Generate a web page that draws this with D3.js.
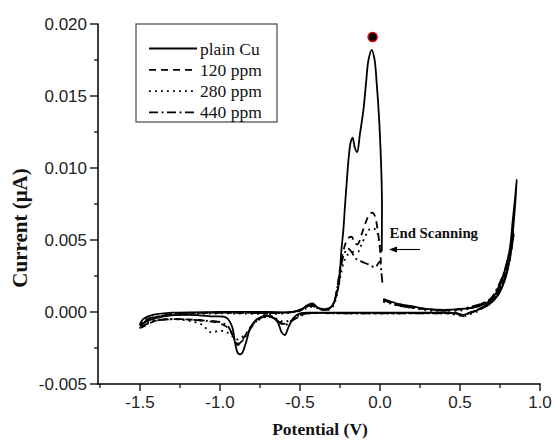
<!DOCTYPE html>
<html><head><meta charset="utf-8">
<script src="https://cdn.jsdelivr.net/npm/d3@7"></script>
<style>body{margin:0;background:#fff}svg{display:block}</style>
</head><body>
<svg id="c" width="554" height="441"></svg>
<script>
// ---- data (Potential V, Current) ----
const plainCu = [[0.02,0.0009],[0.05,0.0008],[0.1,0.0006],[0.2,0.0004],[0.3,0.0002],[0.4,0.00015],[0.5,0.0002],[0.58,0.0003],[0.64,0.0005],[0.69,0.0008],[0.74,0.0016],[0.78,0.0029],[0.81,0.0043],[0.83,0.0064],[0.845,0.0080],[0.855,0.0092],
[0.845,0.0075],[0.83,0.0055],[0.81,0.0036],[0.78,0.0022],[0.74,0.0012],[0.68,0.0005],[0.6,0.0001],[0.55,-0.0001],[0.52,-0.0002],[0.48,-0.0001],[0.4,-0.00005],[0.2,-0.00005],[0.0,-0.00005],[-0.2,-0.00005],[-0.4,-0.00005],[-0.5,-0.0001],[-0.54,-0.0004],[-0.57,-0.0010],[-0.595,-0.0016],[-0.615,-0.0014],[-0.64,-0.0007],[-0.68,-0.0003],[-0.72,-0.0003],[-0.77,-0.0005],[-0.81,-0.0011],[-0.84,-0.0022],[-0.865,-0.0029],[-0.885,-0.0029],[-0.905,-0.0022],[-0.925,-0.0010],[-0.96,-0.0004],[-1.05,-0.0003],[-1.2,-0.0002],[-1.35,-0.0003],[-1.45,-0.0006],[-1.5,-0.0009],
[-1.48,-0.0005],[-1.42,-0.0002],[-1.3,-0.00005],[-1.0,0.0],[-0.7,0.0],[-0.55,0.0],[-0.49,0.0002],[-0.45,0.0005],[-0.42,0.0006],[-0.39,0.0003],[-0.34,0.0002],[-0.3,0.0004],[-0.28,0.0009],[-0.265,0.0015],[-0.254,0.0022],[-0.242,0.0042],[-0.229,0.0057],[-0.218,0.0075],[-0.208,0.0090],[-0.195,0.0108],[-0.183,0.0118],[-0.171,0.0121],[-0.157,0.0114],[-0.143,0.0111],[-0.125,0.0124],[-0.104,0.0140],[-0.088,0.0158],[-0.072,0.0175],[-0.052,0.0182],[-0.035,0.0176],[-0.02,0.0158],[-0.005,0.0133],[0.006,0.0105],[0.012,0.0080],[0.012,0.0060],[0.011,0.0042]];

const ppm120 = [[0.02,0.0008],[0.05,0.0007],[0.1,0.0005],[0.2,0.0003],[0.3,0.0002],[0.4,0.0001],[0.5,0.0002],[0.58,0.0003],[0.64,0.0006],[0.69,0.0009],[0.73,0.0015],[0.77,0.0025],[0.8,0.0036],[0.82,0.0046],[0.835,0.0055],
[0.82,0.0042],[0.8,0.0031],[0.77,0.0021],[0.73,0.0012],[0.68,0.0006],[0.6,0.0001],[0.55,-0.0001],[0.52,-0.0003],[0.48,-0.0001],[0.4,-0.00008],[0.1,-0.00008],[-0.2,-0.00008],[-0.45,-0.0001],[-0.5,-0.0002],[-0.54,-0.0005],[-0.58,-0.0008],[-0.61,-0.0008],[-0.65,-0.0005],[-0.7,-0.0003],[-0.76,-0.0005],[-0.8,-0.0009],[-0.84,-0.0016],[-0.87,-0.0021],[-0.89,-0.0023],[-0.91,-0.0019],[-0.94,-0.0012],[-1.0,-0.0008],[-1.1,-0.0006],[-1.25,-0.0005],[-1.4,-0.0006],[-1.5,-0.0011],
[-1.46,-0.0006],[-1.38,-0.0003],[-1.25,-0.0001],[-1.0,-0.00005],[-0.6,-0.00005],[-0.5,0.0001],[-0.45,0.0004],[-0.42,0.0004],[-0.38,0.0002],[-0.32,0.0002],[-0.29,0.0006],[-0.27,0.0015],[-0.25,0.0030],[-0.23,0.0042],[-0.21,0.0049],[-0.19,0.0052],[-0.175,0.0052],[-0.16,0.0048],[-0.14,0.0047],[-0.115,0.0054],[-0.09,0.0062],[-0.065,0.0068],[-0.045,0.0069],[-0.03,0.0066],[-0.015,0.0057],[-0.002,0.0046],[0.006,0.0034]];

const ppm280 = [[0.02,0.0007],[0.06,0.0006],[0.1,0.0005],[0.2,0.0003],[0.3,0.0001],[0.4,0.0001],[0.5,0.0001],[0.58,0.0003],[0.64,0.0005],[0.69,0.0008],[0.73,0.0014],[0.77,0.0024],[0.8,0.0035],[0.82,0.0045],[0.83,0.0052],
[0.815,0.0040],[0.79,0.0028],[0.76,0.0018],[0.72,0.0010],[0.67,0.0005],[0.6,0.0000],[0.55,-0.0002],[0.52,-0.0003],[0.48,-0.0002],[0.4,-0.0001],[0.1,-0.0001],[-0.2,-0.0001],[-0.45,-0.0001],[-0.5,-0.0002],[-0.55,-0.0005],[-0.6,-0.0007],[-0.64,-0.0005],[-0.7,-0.0003],[-0.75,-0.0005],[-0.79,-0.0008],[-0.83,-0.0014],[-0.87,-0.0018],[-0.9,-0.0019],[-0.93,-0.0016],[-0.96,-0.0014],[-1.0,-0.0013],[-1.06,-0.0014],[-1.11,-0.0009],[-1.2,-0.0006],[-1.35,-0.0005],[-1.45,-0.0007],[-1.5,-0.0011],
[-1.46,-0.0006],[-1.38,-0.0003],[-1.25,-0.0002],[-1.0,-0.0001],[-0.6,-0.0001],[-0.5,0.0001],[-0.45,0.0003],[-0.41,0.0004],[-0.37,0.0002],[-0.31,0.0002],[-0.285,0.0006],[-0.265,0.0014],[-0.245,0.0026],[-0.225,0.0035],[-0.2,0.0040],[-0.16,0.0042],[-0.135,0.0042],[-0.115,0.0047],[-0.09,0.0053],[-0.07,0.0057],[-0.04,0.0058],[-0.02,0.0056],[-0.005,0.0049],[0.005,0.0040]];

const ppm440 = [[0.02,0.0008],[0.06,0.0007],[0.1,0.0005],[0.2,0.0003],[0.3,0.0002],[0.4,0.0001],[0.5,0.0002],[0.58,0.0004],[0.64,0.0006],[0.69,0.0009],[0.73,0.0016],[0.77,0.0026],[0.8,0.0037],[0.82,0.0047],[0.835,0.0054],
[0.82,0.0043],[0.8,0.0032],[0.77,0.0021],[0.73,0.0012],[0.68,0.0006],[0.6,0.0001],[0.55,-0.0001],[0.52,-0.0003],[0.48,-0.0001],[0.4,-0.0001],[0.1,-0.0001],[-0.2,-0.0001],[-0.45,-0.0001],[-0.5,-0.0003],[-0.55,-0.0006],[-0.59,-0.0009],[-0.62,-0.0008],[-0.66,-0.0004],[-0.7,-0.0002],[-0.75,-0.0004],[-0.8,-0.0010],[-0.84,-0.0017],[-0.87,-0.0021],[-0.89,-0.0022],[-0.915,-0.0018],[-0.95,-0.0010],[-1.0,-0.0007],[-1.1,-0.0006],[-1.25,-0.0005],[-1.4,-0.0006],[-1.5,-0.0010],
[-1.46,-0.0005],[-1.38,-0.0003],[-1.25,-0.0001],[-1.0,-0.00005],[-0.6,-0.00005],[-0.5,0.0001],[-0.45,0.0004],[-0.42,0.0005],[-0.38,0.0002],[-0.32,0.0002],[-0.29,0.0006],[-0.27,0.0015],[-0.25,0.0028],[-0.225,0.0040],[-0.2,0.0044],[-0.18,0.0042],[-0.15,0.0037],[-0.115,0.0035],[-0.07,0.0033],[-0.03,0.0031],[-0.01,0.0034],[0.0,0.0035],[0.008,0.0028],[0.017,0.0018]];

const seriesNames = ["plain Cu","120 ppm","280 ppm","440 ppm"];
const markerPoint = [-0.046, 0.0191];
const xTicks = [-1.5,-1.0,-0.5,0.0,0.5,1.0];
const xTickLabels = ["-1.5","-1.0","-0.5","0.0","0.5","1.0"];
const yTicks = [-0.005,0.000,0.005,0.010,0.015,0.020];
const yTickLabels = ["-0.005","0.000","0.005","0.010","0.015","0.020"];
const xMinor = [-1.75,-1.25,-0.75,-0.25,0.25,0.75];
const yMinor = [-0.0025,0.0025,0.0075,0.0125,0.0175];
const annotationText = "End Scanning";
const annotationPoint = [0.06, 0.0057];

// ---- drawing ----
const svg = d3.select("#c");
const x = d3.scaleLinear().domain([-1.7625, 1.0]).range([98, 540]);
const y = d3.scaleLinear().domain([-0.005, 0.020]).range([384, 24]);

const styles = [
  {dash: null, w: 1.8},
  {dash: "7,5", w: 1.8},
  {dash: "1.8,4.2", w: 1.9},
  {dash: "9,3.5,2,3.5", w: 1.8}
];
const allSeries = [plainCu, ppm120, ppm280, ppm440];
const line = d3.line().x(d => x(d[0])).y(d => y(d[1])).curve(d3.curveCatmullRom.alpha(0.5));

// draw additives first, solid on top
[1,2,3,0].forEach(i => {
  svg.append("path").attr("d", line(allSeries[i]))
    .attr("fill","none").attr("stroke","#000")
    .attr("stroke-width", styles[i].w)
    .attr("stroke-dasharray", styles[i].dash)
    .attr("stroke-linejoin","round").attr("stroke-linecap","butt");
});

// axes
const tickFont = "'Liberation Sans', Arial, sans-serif";
const xAxis = svg.append("g").attr("transform","translate(0,384)");
xAxis.append("line").attr("x1",98).attr("x2",x(1.0)+0.75).attr("stroke","#000").attr("stroke-width",1.5);
xTicks.forEach((t,i) => {
  xAxis.append("line").attr("x1",x(t)).attr("x2",x(t)).attr("y1",0).attr("y2",7).attr("stroke","#000").attr("stroke-width",1.3);
  xAxis.append("text").attr("x",x(t)).attr("y",24).attr("text-anchor","middle")
    .attr("font-family",tickFont).attr("font-size",17).attr("fill","#222").text(xTickLabels[i]);
});
xMinor.forEach(t => {
  xAxis.append("line").attr("x1",x(t)).attr("x2",x(t)).attr("y1",0).attr("y2",4).attr("stroke","#000").attr("stroke-width",1.2);
});

const yAxis = svg.append("g").attr("transform","translate(98,0)");
yAxis.append("line").attr("y1",y(0.020)-0.5).attr("y2",384.75).attr("stroke","#000").attr("stroke-width",1.5);
yTicks.forEach((t,i) => {
  yAxis.append("line").attr("x1",-8).attr("x2",0).attr("y1",y(t)).attr("y2",y(t)).attr("stroke","#000").attr("stroke-width",1.3);
  yAxis.append("text").attr("x",-11).attr("y",y(t)).attr("dy","0.36em").attr("text-anchor","end")
    .attr("font-family",tickFont).attr("font-size",17).attr("fill","#222").text(yTickLabels[i]);
});
yMinor.forEach(t => {
  yAxis.append("line").attr("x1",-4).attr("x2",0).attr("y1",y(t)).attr("y2",y(t)).attr("stroke","#000").attr("stroke-width",1.2);
});

// axis titles
const serif = "'Liberation Serif', 'Times New Roman', serif";
svg.append("text").attr("x",320).attr("y",435).attr("text-anchor","middle")
  .attr("font-family",serif).attr("font-weight","bold").attr("font-size",17.5).attr("fill","#111")
  .text("Potential (V)");
svg.append("text").attr("transform","translate(27,228) rotate(-90)").attr("text-anchor","middle")
  .attr("font-family",serif).attr("font-weight","bold").attr("font-size",21).attr("fill","#111")
  .text("Current (μA)");

// legend
const lg = svg.append("g");
lg.append("rect").attr("x",136).attr("y",24).attr("width",141).attr("height",98)
  .attr("fill","#fff").attr("stroke","#555").attr("stroke-width",1.3);
seriesNames.forEach((n,i) => {
  const yy = 48.5 + i*21.3;
  lg.append("line").attr("x1",149).attr("x2",197).attr("y1",yy).attr("y2",yy)
    .attr("stroke","#000").attr("stroke-width",styles[i].w).attr("stroke-dasharray",styles[i].dash);
  lg.append("text").attr("x",200).attr("y",yy+6).attr("font-family",serif).attr("font-size",17.5)
    .attr("fill","#111").text(n);
});

// marker dot
svg.append("circle").attr("cx",x(markerPoint[0])).attr("cy",y(markerPoint[1])).attr("r",4.6)
  .attr("fill","#000").attr("stroke","#e00").attr("stroke-width",1.4);

// annotation
svg.append("text").attr("x",x(annotationPoint[0])).attr("y",y(annotationPoint[1])+8)
  .attr("font-family",serif).attr("font-weight","bold").attr("font-size",14.8).attr("fill","#111")
  .text(annotationText);
const ay = 249.5;
svg.append("line").attr("x1",420).attr("x2",393).attr("y1",ay).attr("y2",ay).attr("stroke","#000").attr("stroke-width",1.1);
svg.append("path").attr("d",`M389,${ay} L397,${ay-3} L397,${ay+3} Z`).attr("fill","#000");
</script>
</body></html>
